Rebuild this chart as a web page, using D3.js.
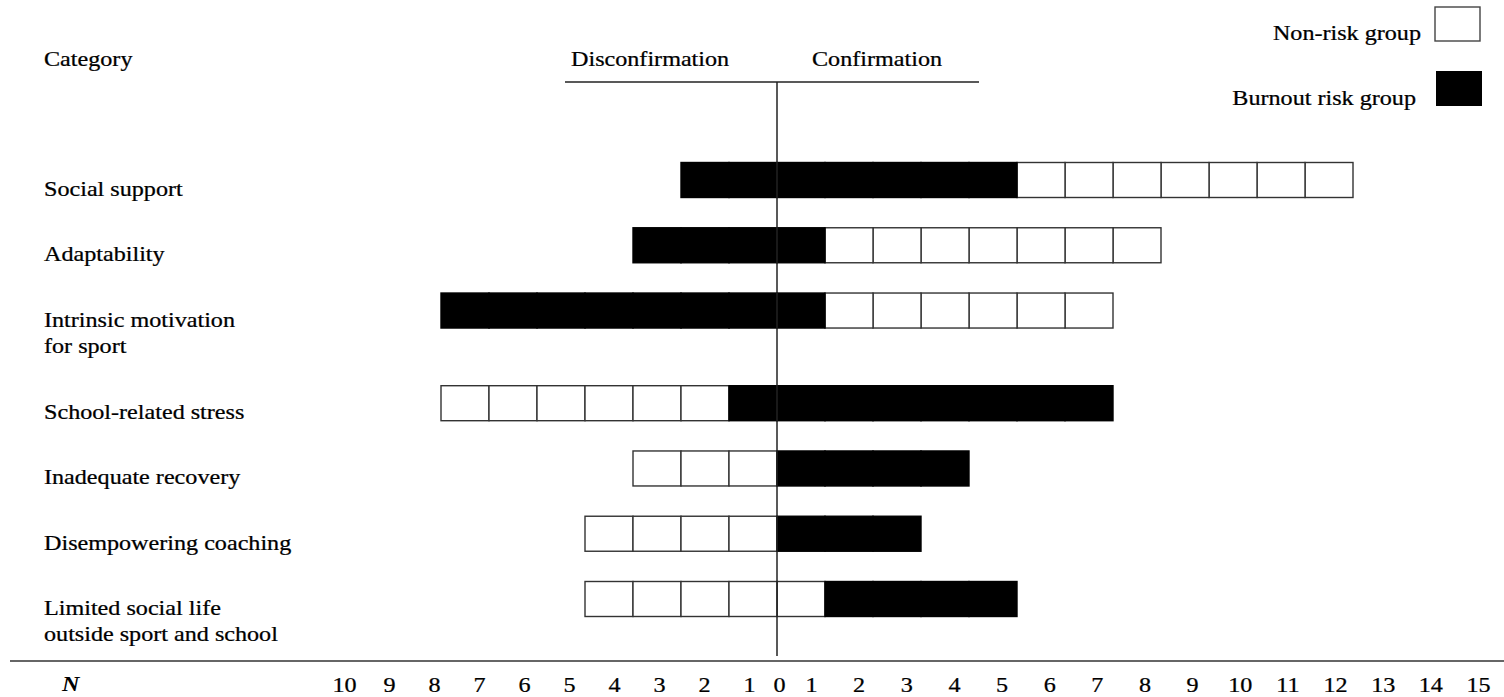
<!DOCTYPE html>
<html>
<head>
<meta charset="utf-8">
<script src="https://cdn.jsdelivr.net/npm/d3@7"></script>
<style>
  body { margin: 0; background: #fff; }
  svg text { font-family: "Liberation Serif", "Times New Roman", serif; fill: #000; }
</style>
</head>
<body>
<div id="chart"></div>
<script>
// data (counts of athletes per category)
var categories = [
  ["Social support"],
  ["Adaptability"],
  ["Intrinsic motivation", "for sport"],
  ["School-related stress"],
  ["Inadequate recovery"],
  ["Disempowering coaching"],
  ["Limited social life", "outside sport and school"]
];
var riskDisconfirm    = [2, 3, 7, 1, 0, 0, 0];
var riskConfirm       = [5, 1, 1, 7, 4, 3, 4];
var nonRiskDisconfirm = [0, 0, 0, 6, 3, 4, 4];
var nonRiskConfirm    = [7, 7, 6, 0, 0, 0, 1];
var nTicks = [-10, -9, -8, -7, -6, -5, -4, -3, -2, -1, 0, 1, 2, 3, 4, 5, 6, 7, 8, 9, 10, 11, 12, 13, 14, 15];

var w = 1504;
var h = 697;
var barH = 35;
var sx = 1.15; // the scanned type is a bit wide

var svg = d3.select("#chart")
  .append("svg")
    .attr("width", w)
    .attr("height", h);

// one unit = one box
var x = d3.scaleLinear().domain([-10, 15]).range([297, 1497]);
// tick labels in the figure are not evenly spaced
var xLab = d3.scaleLinear()
  .domain([-10, -1, 0, 1, 15])
  .range([344, 749, 779, 811, 1478]);

// rows with two-line labels push the next row down a little
var slots = [];
var extra = 0;
categories.forEach(function(c, i){
  slots.push(i + extra);
  extra += 0.42 * (c.length - 1);
});
var y = d3.scaleLinear().domain([0, slots[slots.length - 1]]).range([180, 599]);

function txt(str, tx, ty, anchor){
  return svg.append("text")
    .attr("transform", "translate(" + tx + "," + ty + ") scale(" + sx + ",1)")
    .attr("text-anchor", anchor || "start")
    .attr("font-size", 21)
    .attr("stroke", "#000")
    .attr("stroke-width", 0.25)
    .text(str);
}

// build unit boxes
var boxes = [];
categories.forEach(function(c, i){
  var nonInner = nonRiskDisconfirm[i] > 0 && nonRiskConfirm[i] > 0;
  var inner = nonInner
    ? { dis: nonRiskDisconfirm[i], con: nonRiskConfirm[i], fill: "#fff" }
    : { dis: riskDisconfirm[i], con: riskConfirm[i], fill: "#000" };
  var outer = nonInner
    ? { dis: riskDisconfirm[i], con: riskConfirm[i], fill: "#000" }
    : { dis: nonRiskDisconfirm[i], con: nonRiskConfirm[i], fill: "#fff" };
  var k;
  for (k = 0; k < inner.dis; k++) boxes.push({ row: i, v: -k - 1, fill: inner.fill });
  for (k = 0; k < inner.con; k++) boxes.push({ row: i, v: k, fill: inner.fill });
  for (k = 0; k < outer.dis; k++) boxes.push({ row: i, v: -inner.dis - k - 1, fill: outer.fill });
  for (k = 0; k < outer.con; k++) boxes.push({ row: i, v: inner.con + k, fill: outer.fill });
});

// white boxes first, black on top
boxes.sort(function(a, b){ return a.fill === "#000" ? 1 : -1; });

svg.selectAll("rect.box")
  .data(boxes)
  .enter()
  .append("rect")
    .attr("class", "box")
    .attr("x", function(d){ return x(d.v); })
    .attr("y", function(d){ return y(slots[d.row]) - barH / 2; })
    .attr("width", x(1) - x(0))
    .attr("height", barH)
    .attr("fill", function(d){ return d.fill; })
    .attr("stroke", function(d){ return d.fill === "#000" ? "#000" : "#333"; })
    .attr("stroke-width", 1.4);

// zero line
svg.append("line")
  .attr("x1", x(0)).attr("x2", x(0))
  .attr("y1", 82).attr("y2", 656)
  .attr("stroke", "#222").attr("stroke-width", 1.5);

// header
svg.append("line")
  .attr("x1", 565).attr("x2", 979)
  .attr("y1", 82).attr("y2", 82)
  .attr("stroke", "#222").attr("stroke-width", 1.4);
txt("Category", 44, 66);
txt("Disconfirmation", 571, 66);
txt("Confirmation", 812, 66);

// category labels
categories.forEach(function(c, i){
  c.forEach(function(line, j){
    txt(line, 44, y(slots[i]) + 16 + j * 26);
  });
});

// legend
svg.append("rect")
  .attr("x", 1435).attr("y", 7).attr("width", 45).attr("height", 34)
  .attr("fill", "#fff").attr("stroke", "#444").attr("stroke-width", 1.4);
svg.append("rect")
  .attr("x", 1436).attr("y", 71).attr("width", 46).attr("height", 35)
  .attr("fill", "#000");
txt("Non-risk group", 1421, 40, "end");
txt("Burnout risk group", 1416, 105, "end");

// bottom rule and N axis
svg.append("line")
  .attr("x1", 10).attr("x2", w)
  .attr("y1", 661).attr("y2", 661)
  .attr("stroke", "#333").attr("stroke-width", 1.6);

var axis = d3.axisBottom(xLab)
  .tickValues(nTicks)
  .tickSize(0)
  .tickFormat(function(d){ return Math.abs(d); });

var gAxis = svg.append("g")
  .attr("transform", "translate(0,676)")
  .call(axis);
gAxis.select(".domain").remove();
gAxis.selectAll("text")
  .attr("font-size", 21)
  .attr("font-family", "Liberation Serif, Times New Roman, serif")
  .attr("fill", "#000")
  .attr("stroke", "#000")
  .attr("stroke-width", 0.25)
  .attr("dy", "0.75em")
  .attr("y", 0)
  .attr("x", 0)
  .attr("transform", "scale(" + sx + ",1)");

svg.append("text")
  .attr("transform", "translate(62,691) scale(" + sx + ",1)")
  .attr("font-size", 21)
  .attr("font-style", "italic")
  .attr("font-weight", "bold")
  .text("N");
</script>
</body>
</html>
